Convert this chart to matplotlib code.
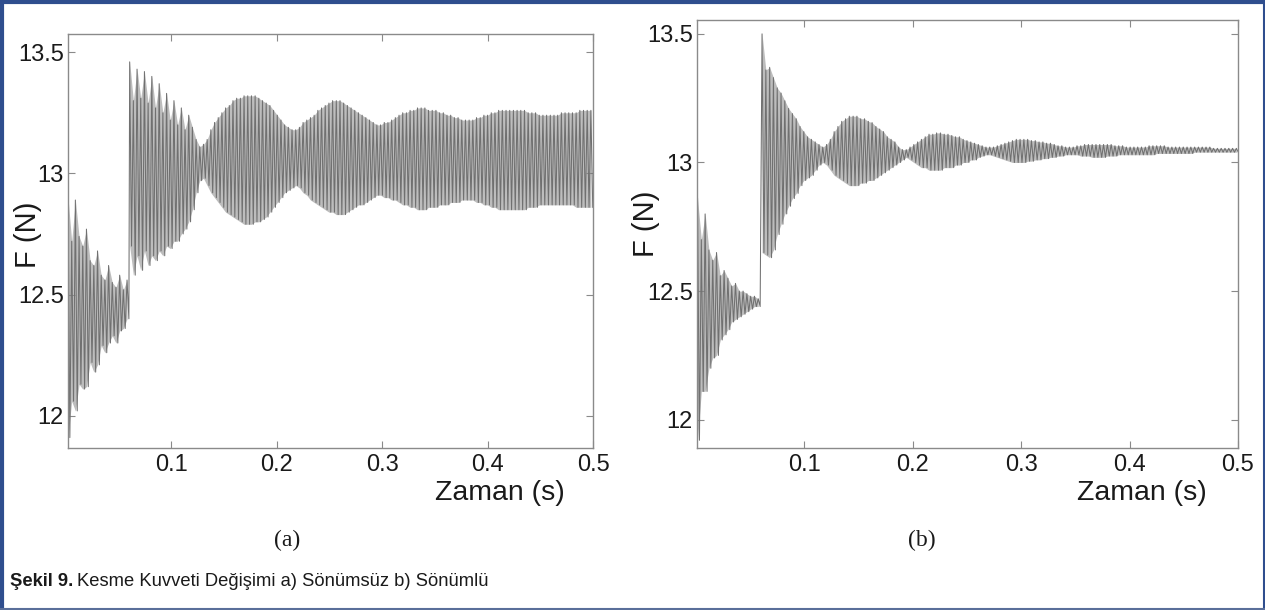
import numpy as np
import matplotlib
matplotlib.use('Agg')
import matplotlib.pyplot as plt
from matplotlib.lines import Line2D

plt.rcParams['font.family'] = ['Liberation Sans', 'DejaVu Sans']

# eksen etiketleri
x_ticks = [0.1, 0.2, 0.3, 0.4, 0.5]
x_tick_labels = ['0.1', '0.2', '0.3', '0.4', '0.5']
y_ticks = [12, 12.5, 13, 13.5]
y_tick_labels = ['12', '12.5', '13', '13.5']

periyot = 0.0035  # salinim periyodu (s)

# (a) Sonumsuz - darbe oncesi: tepe ve cukur degerleri
a_on_t0 = 0.002
a_on_ust = [12.90, 12.72, 12.89, 12.74, 12.70, 12.77, 12.64, 12.62, 12.68, 12.58,
            12.56, 12.62, 12.55, 12.53, 12.58, 12.52, 12.56]
a_on_alt = [11.91, 12.06, 12.02, 12.13, 12.11, 12.12, 12.22, 12.18, 12.21, 12.29,
            12.26, 12.30, 12.33, 12.30, 12.35, 12.36, 12.40]

# (a) Sonumsuz - darbe sonrasi
a_son_t0 = 0.0605
a_son_ust = [13.46, 13.30, 13.43, 13.31, 13.42, 13.29, 13.40, 13.27, 13.37, 13.25,
             13.33, 13.22, 13.30, 13.20, 13.27, 13.18, 13.24, 13.19, 13.14, 13.11,
             13.12, 13.14, 13.18, 13.21, 13.23, 13.25, 13.27, 13.28, 13.30, 13.31,
             13.31, 13.32, 13.32, 13.32, 13.32, 13.31, 13.30, 13.29, 13.28, 13.26,
             13.24, 13.22, 13.20, 13.19, 13.18, 13.18, 13.19, 13.21, 13.22, 13.23,
             13.24, 13.26, 13.27, 13.28, 13.29, 13.30, 13.30, 13.30, 13.29, 13.28,
             13.27, 13.26, 13.25, 13.24, 13.23, 13.22, 13.21, 13.20, 13.20, 13.21,
             13.21, 13.22, 13.23, 13.24, 13.25, 13.25, 13.26, 13.26, 13.27, 13.27,
             13.27, 13.26, 13.26, 13.26, 13.25, 13.25, 13.24, 13.24, 13.23, 13.23,
             13.22, 13.22, 13.22, 13.22, 13.23, 13.23, 13.24, 13.24, 13.25, 13.25,
             13.26, 13.26, 13.26, 13.26, 13.26, 13.26, 13.26, 13.26, 13.25, 13.25,
             13.25, 13.24, 13.24, 13.24, 13.24, 13.24, 13.24, 13.25, 13.25, 13.25,
             13.25, 13.25, 13.26, 13.26, 13.26, 13.26]
a_son_alt = [12.70, 12.58, 12.66, 12.60, 12.68, 12.62, 12.66, 12.64, 12.68, 12.66,
             12.70, 12.69, 12.72, 12.72, 12.75, 12.77, 12.80, 12.85, 12.92, 12.97,
             12.98, 12.95, 12.92, 12.90, 12.88, 12.86, 12.84, 12.83, 12.82, 12.81,
             12.80, 12.79, 12.79, 12.79, 12.80, 12.80, 12.81, 12.82, 12.84, 12.86,
             12.88, 12.90, 12.92, 12.93, 12.94, 12.95, 12.94, 12.92, 12.91, 12.89,
             12.88, 12.87, 12.86, 12.85, 12.84, 12.84, 12.83, 12.83, 12.83, 12.84,
             12.85, 12.86, 12.87, 12.87, 12.88, 12.89, 12.90, 12.91, 12.91, 12.90,
             12.90, 12.89, 12.89, 12.88, 12.87, 12.87, 12.86, 12.86, 12.85, 12.85,
             12.85, 12.86, 12.86, 12.86, 12.87, 12.87, 12.87, 12.88, 12.88, 12.88,
             12.89, 12.89, 12.89, 12.89, 12.88, 12.88, 12.87, 12.87, 12.86, 12.86,
             12.85, 12.85, 12.85, 12.85, 12.85, 12.85, 12.85, 12.85, 12.86, 12.86,
             12.86, 12.87, 12.87, 12.87, 12.87, 12.87, 12.87, 12.87, 12.87, 12.87,
             12.87, 12.86, 12.86, 12.86, 12.86, 12.86]

# (b) Sonumlu - darbe oncesi
b_on_t0 = 0.0015
b_on_ust = [12.86, 12.70, 12.80, 12.66, 12.62, 12.65, 12.56, 12.58, 12.55, 12.52,
            12.53, 12.50, 12.50, 12.49, 12.48, 12.48, 12.47]
b_on_alt = [11.92, 12.11, 12.11, 12.20, 12.24, 12.25, 12.31, 12.33, 12.35, 12.38,
            12.39, 12.40, 12.41, 12.42, 12.43, 12.44, 12.44]

# (b) Sonumlu - darbe sonrasi
b_son_t0 = 0.061
b_son_ust = [13.50, 13.36, 13.37, 13.33, 13.29, 13.27, 13.24, 13.21, 13.19, 13.17,
             13.14, 13.12, 13.10, 13.09, 13.08, 13.07, 13.06, 13.07, 13.09, 13.12,
             13.14, 13.16, 13.17, 13.18, 13.18, 13.18, 13.17, 13.17, 13.16, 13.155,
             13.14, 13.13, 13.12, 13.10, 13.09, 13.08, 13.06, 13.05, 13.05, 13.06,
             13.07, 13.08, 13.09, 13.10, 13.11, 13.11, 13.115, 13.115, 13.11, 13.11,
             13.105, 13.10, 13.10, 13.09, 13.085, 13.08, 13.075, 13.07, 13.065, 13.06,
             13.06, 13.06, 13.065, 13.07, 13.075, 13.08, 13.085, 13.09, 13.09, 13.09,
             13.09, 13.085, 13.085, 13.08, 13.08, 13.075, 13.075, 13.07, 13.065, 13.065,
             13.06, 13.06, 13.06, 13.065, 13.065, 13.07, 13.07, 13.07, 13.07, 13.07,
             13.07, 13.07, 13.07, 13.065, 13.065, 13.065, 13.06, 13.06, 13.06, 13.06,
             13.06, 13.06, 13.065, 13.065, 13.065, 13.065, 13.065, 13.06, 13.06, 13.06,
             13.06, 13.06, 13.06, 13.06, 13.06, 13.06, 13.06, 13.06, 13.06, 13.055,
             13.055, 13.055, 13.055, 13.055, 13.055, 13.055]
b_son_alt = [12.65, 12.64, 12.63, 12.66, 12.72, 12.76, 12.80, 12.83, 12.86, 12.88,
             12.91, 12.93, 12.94, 12.95, 12.97, 12.99, 13.00, 12.99, 12.97, 12.95,
             12.94, 12.93, 12.92, 12.91, 12.91, 12.91, 12.92, 12.92, 12.93, 12.93,
             12.94, 12.95, 12.96, 12.97, 12.98, 12.99, 13.00, 13.01, 13.02, 13.01,
             13.00, 12.99, 12.98, 12.98, 12.97, 12.97, 12.97, 12.97, 12.98, 12.98,
             12.98, 12.99, 12.99, 13.00, 13.00, 13.01, 13.01, 13.02, 13.025, 13.03,
             13.03, 13.025, 13.02, 13.015, 13.01, 13.005, 13.00, 13.00, 13.00, 13.00,
             13.005, 13.005, 13.01, 13.01, 13.015, 13.015, 13.02, 13.02, 13.025, 13.025,
             13.03, 13.03, 13.03, 13.03, 13.025, 13.025, 13.025, 13.02, 13.02, 13.02,
             13.02, 13.025, 13.025, 13.025, 13.03, 13.03, 13.03, 13.03, 13.03, 13.03,
             13.03, 13.03, 13.03, 13.03, 13.035, 13.035, 13.035, 13.035, 13.035, 13.035,
             13.035, 13.035, 13.035, 13.035, 13.04, 13.04, 13.04, 13.04, 13.04, 13.04,
             13.04, 13.04, 13.04, 13.04, 13.04, 13.04]


# tepe/cukur listelerinden zikzak sinyal olustur
def sinyal(t0, ust, alt):
    n = len(ust)
    t = t0 + periyot * np.arange(n)
    tt = np.empty(2 * n)
    yy = np.empty(2 * n)
    tt[0::2] = t
    tt[1::2] = t + periyot / 2
    yy[0::2] = ust
    yy[1::2] = alt
    return tt, yy


def ciz(ax, parcalar, xlim, ylim, ylab_x, ylab_y):
    ts, ys = [], []
    for p in parcalar:
        t, y = sinyal(*p)
        ts.append(t)
        ys.append(y)
        # yogun salinimin gri dolgusu (ayni tepe/cukur degerleri)
        ax.fill_between(t[0::2], p[1], p[2], color='#bdbdbd', linewidth=0, zorder=1)
    ax.plot(np.concatenate(ts), np.concatenate(ys), color='#707070', linewidth=0.75, zorder=2)
    ax.set_xlim(xlim)
    ax.set_ylim(ylim)
    ax.set_xticks(x_ticks)
    ax.set_xticklabels(x_tick_labels)
    ax.set_yticks(y_ticks)
    ax.set_yticklabels(y_tick_labels)
    ax.tick_params(direction='in', top=True, right=True, length=5, width=0.8,
                   color='#8a8a8a', labelsize=17, labelcolor='#1a1a1a')
    ax.tick_params(axis='x', pad=4)
    ax.tick_params(axis='y', pad=3)
    for s in ax.spines.values():
        s.set_color('#8a8a8a')
        s.set_linewidth(1.0)
    ax.set_xlabel('Zaman (s)', fontsize=20.5, color='#1a1a1a', va='center', ha='center')
    ax.xaxis.set_label_coords(0.822, -(493 - 448) / (ax.get_position().height * 610))
    ax.set_ylabel('F (N)', fontsize=21, color='#1a1a1a', va='center', ha='center')
    ax.yaxis.set_label_coords(ylab_x, ylab_y)


W, H = 1265, 610
fig = plt.figure(figsize=(W / 100, H / 100), dpi=100)
fig.patch.set_facecolor('white')

ax1 = fig.add_axes([68 / W, 162 / H, 525 / W, 414 / H])
ciz(ax1, [(a_on_t0, a_on_ust, a_on_alt), (a_son_t0, a_son_ust, a_son_alt)],
    (0.002, 0.5), (11.867, 13.575), -0.076, 0.515)

ax2 = fig.add_axes([697 / W, 162 / H, 541 / W, 428 / H])
ciz(ax2, [(b_on_t0, b_on_ust, b_on_alt), (b_son_t0, b_son_ust, b_son_alt)],
    (0.001, 0.5), (11.89, 13.554), -0.095, 0.523)

# alt yazilar
fig.text(287 / W, 1 - 540 / H, '(a)', family='Liberation Serif', fontsize=17,
         ha='center', va='center', color='#1a1a1a')
fig.text(922 / W, 1 - 540 / H, '(b)', family='Liberation Serif', fontsize=17,
         ha='center', va='center', color='#1a1a1a')

cap_font = ['Liberation Sans Narrow', 'Liberation Sans']
t1 = fig.text(10 / W, 1 - 581 / H, 'Şekil 9.', family=cap_font, fontsize=13.2,
              weight='bold', ha='left', va='center', color='#1a1a1a')
fig.canvas.draw()
bb = t1.get_window_extent(fig.canvas.get_renderer())
fig.text((bb.x1 + 4) / W, 1 - 581 / H, 'Kesme Kuvveti Değişimi a) Sönümsüz b) Sönümlü',
         family=cap_font, fontsize=13.2, ha='left', va='center', color='#1a1a1a')

# mavi cerceve
mavi = '#2f4e8e'
fig.add_artist(Line2D([0, 1], [1 - 2 / H, 1 - 2 / H], transform=fig.transFigure,
                      color=mavi, linewidth=3.0))
fig.add_artist(Line2D([2 / W, 2 / W], [0, 1], transform=fig.transFigure,
                      color=mavi, linewidth=3.0))
fig.add_artist(Line2D([1 - 1 / W, 1 - 1 / W], [0, 1], transform=fig.transFigure,
                      color=mavi, linewidth=1.5))
fig.add_artist(Line2D([0, 1], [1 / H, 1 / H], transform=fig.transFigure,
                      color='#5a6f9a', linewidth=1.5))

fig.savefig('out.png', dpi=100, facecolor='white')
